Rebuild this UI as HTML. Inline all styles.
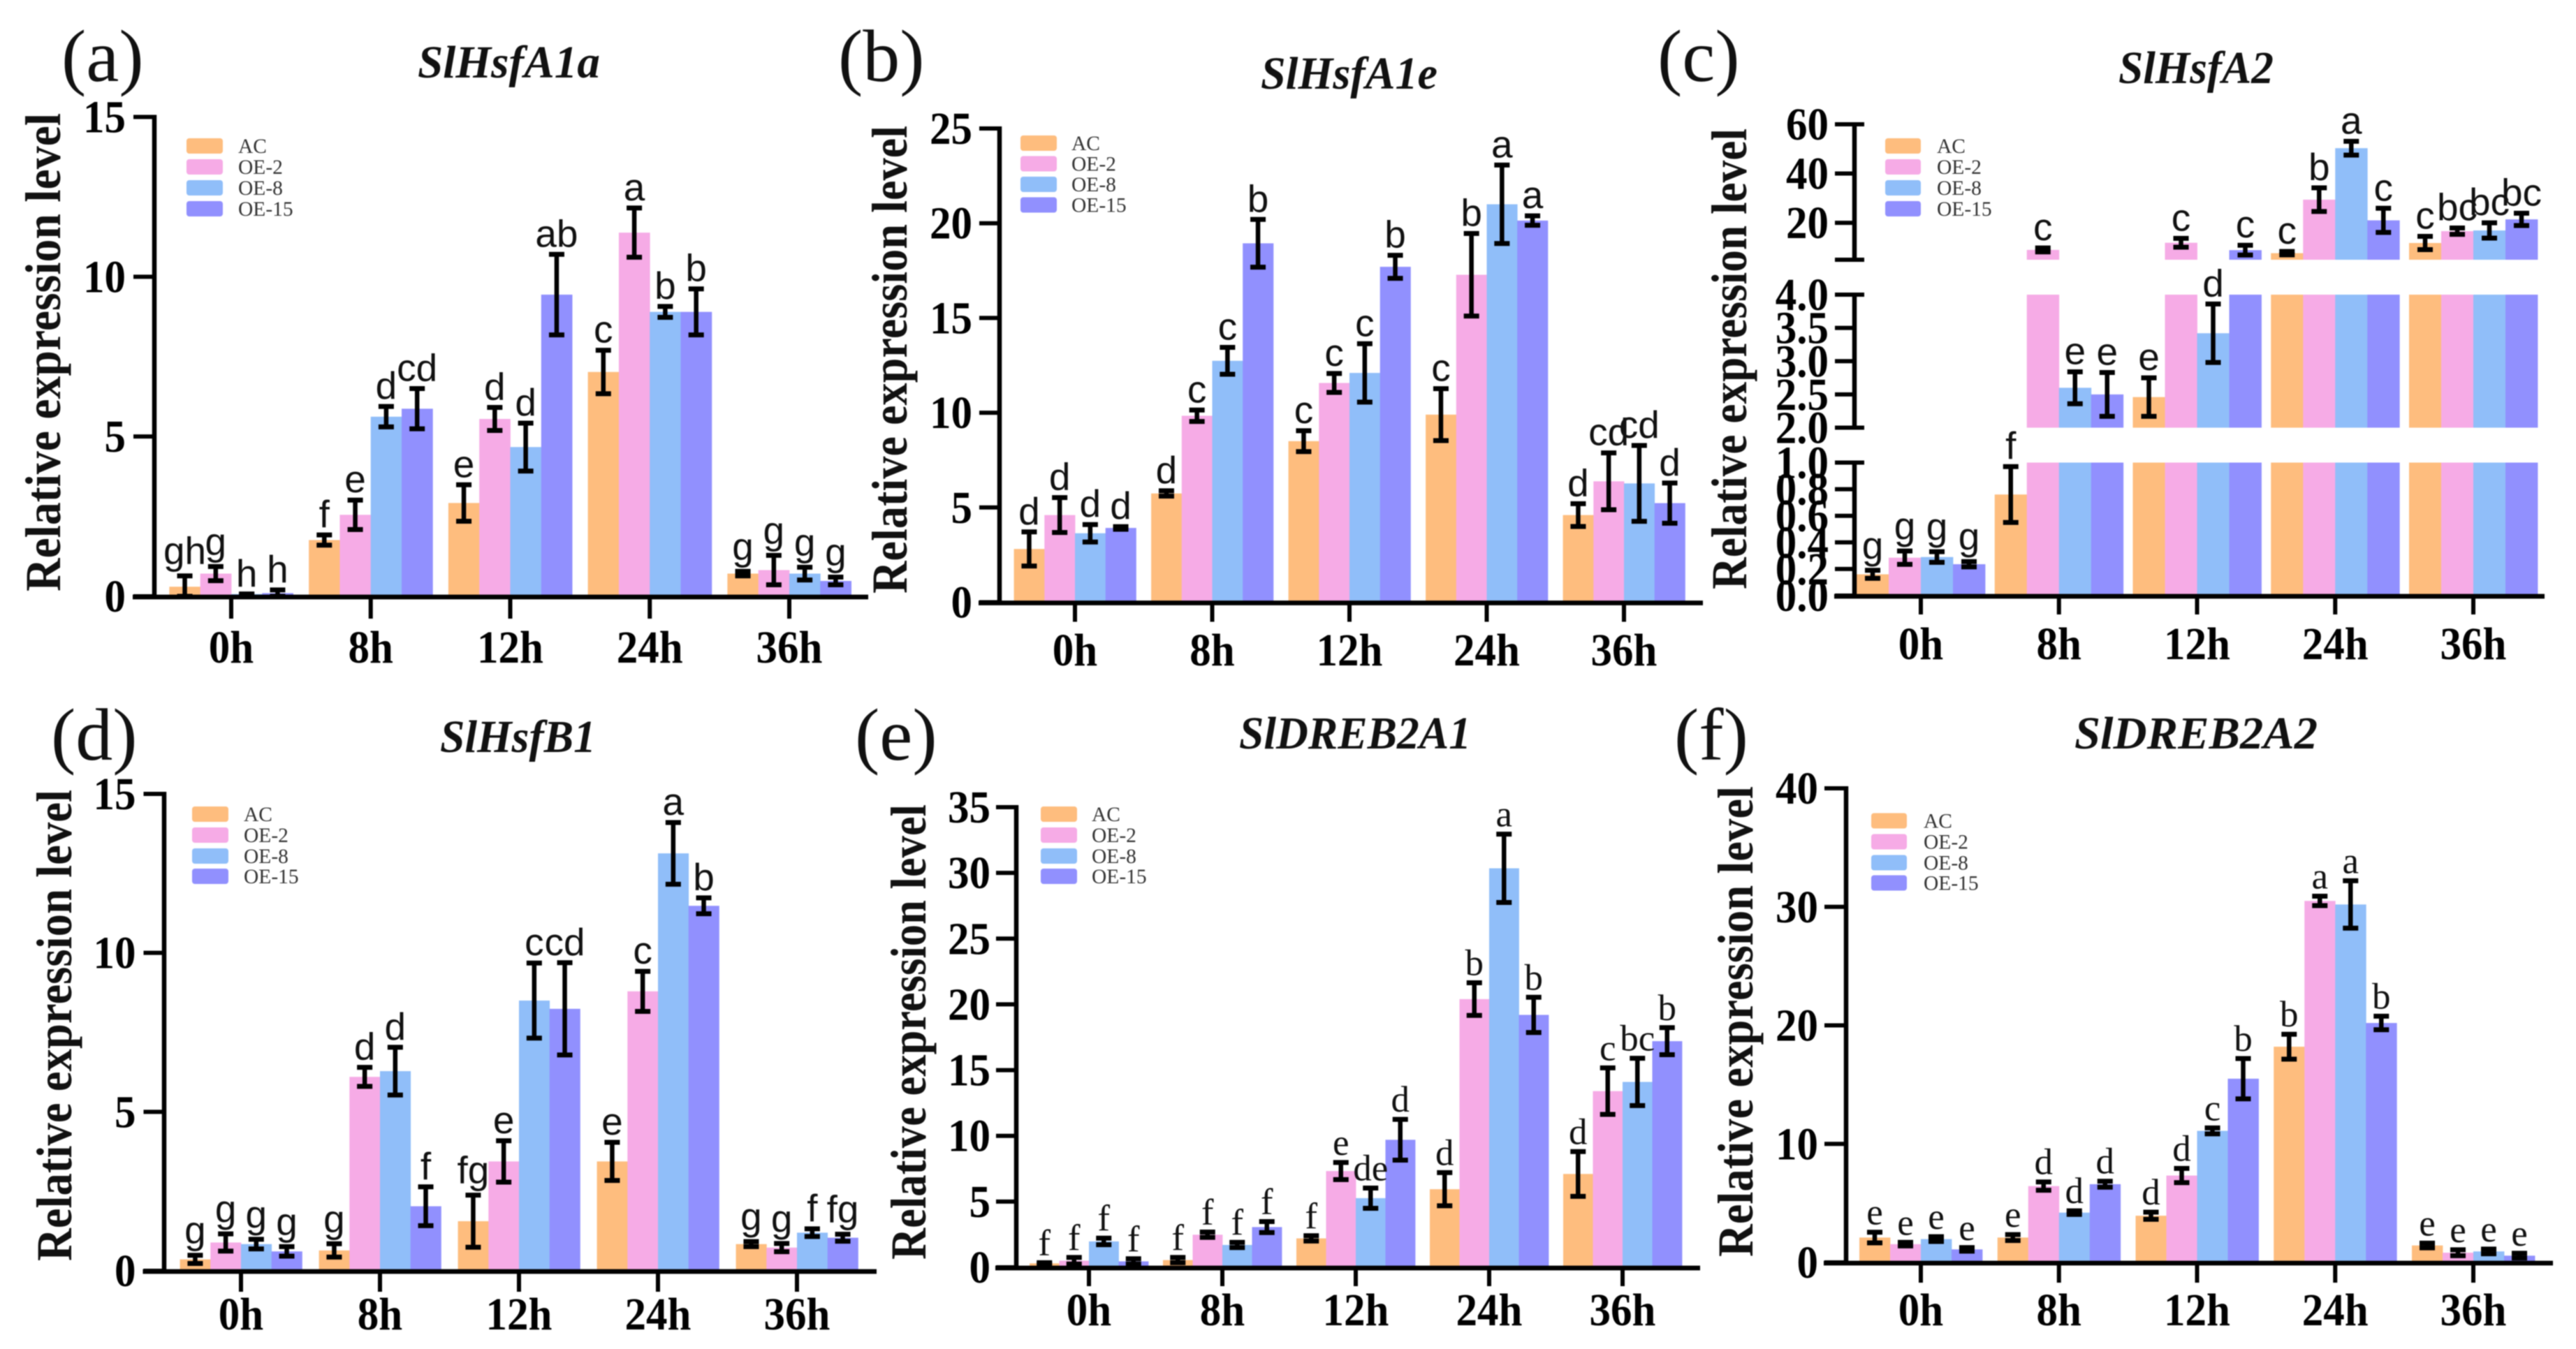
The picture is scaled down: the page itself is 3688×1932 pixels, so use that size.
<!DOCTYPE html>
<html lang="en">
<head>
<meta charset="utf-8">
<title>Relative expression level of heat-stress genes</title>
<style>
html,body{margin:0;padding:0;background:#fff;}
svg{display:block;filter:blur(0.7px);}
text{font-family:"Liberation Serif",serif;fill:#000;}
.panel-label{font-size:106px;font-weight:400;fill:#111;}
.chart-title{font-size:66px;font-weight:700;font-style:italic;fill:#111;}
.y-title{font-size:72px;font-weight:700;fill:#111;}
.tick{font-size:61px;font-weight:700;text-anchor:end;fill:#000;}
.cat{font-size:61px;font-weight:700;text-anchor:middle;fill:#000;}
.legend-text{font-size:29.5px;fill:#333;}
.sig-sans{font-family:"Liberation Sans",sans-serif;font-size:55px;text-anchor:middle;fill:#111;}
.sig-serif{font-family:"Liberation Serif",serif;font-size:53px;text-anchor:middle;fill:#111;}
</style>
</head>
<body>
<svg id="figure" xmlns="http://www.w3.org/2000/svg" width="3688" height="1932" viewBox="0 0 3688 1932">
<rect x="0" y="0" width="3688" height="1932" fill="#fff"/>

<g id="panel-a">
  <text class="panel-label" x="88" y="116">(a)</text>
  <text class="chart-title" x="598" y="111" textLength="261" lengthAdjust="spacingAndGlyphs">SlHsfA1a</text>
  <text class="y-title" transform="translate(86,847) rotate(-90)" textLength="685" lengthAdjust="spacingAndGlyphs">Relative expression level</text>
</g>
<g id="panel-b">
  <text class="panel-label" x="1200" y="116">(b)</text>
  <text class="chart-title" x="1805" y="127" textLength="253" lengthAdjust="spacingAndGlyphs">SlHsfA1e</text>
  <text class="y-title" transform="translate(1298,850) rotate(-90)" textLength="670" lengthAdjust="spacingAndGlyphs">Relative expression level</text>
</g>
<g id="panel-c">
  <text class="panel-label" x="2373" y="116">(c)</text>
  <text class="chart-title" x="3033" y="119" textLength="222" lengthAdjust="spacingAndGlyphs">SlHsfA2</text>
  <text class="y-title" transform="translate(2500,844) rotate(-90)" textLength="660" lengthAdjust="spacingAndGlyphs">Relative expression level</text>
</g>
<g id="panel-d">
  <text class="panel-label" x="73" y="1088">(d)</text>
  <text class="chart-title" x="630" y="1077" textLength="223" lengthAdjust="spacingAndGlyphs">SlHsfB1</text>
  <text class="y-title" transform="translate(102,1806) rotate(-90)" textLength="675" lengthAdjust="spacingAndGlyphs">Relative expression level</text>
</g>
<g id="panel-e">
  <text class="panel-label" x="1224" y="1088">(e)</text>
  <text class="chart-title" x="1774" y="1072" textLength="332" lengthAdjust="spacingAndGlyphs">SlDREB2A1</text>
  <text class="y-title" transform="translate(1325,1804) rotate(-90)" textLength="652" lengthAdjust="spacingAndGlyphs">Relative expression level</text>
</g>
<g id="panel-f">
  <text class="panel-label" x="2397" y="1088">(f)</text>
  <text class="chart-title" x="2970" y="1072" textLength="348" lengthAdjust="spacingAndGlyphs">SlDREB2A2</text>
  <text class="y-title" transform="translate(2509,1800) rotate(-90)" textLength="674" lengthAdjust="spacingAndGlyphs">Relative expression level</text>
</g>

<g transform="translate(267,209)">
  <g><rect x="0" y="-11" width="52" height="22" rx="4" fill="#FEBD7E"/><text class="legend-text" x="74" y="10">AC</text></g>
  <g transform="translate(0,30)"><rect x="0" y="-11" width="52" height="22" rx="4" fill="#F6ABE6"/><text class="legend-text" x="74" y="10">OE-2</text></g>
  <g transform="translate(0,60)"><rect x="0" y="-11" width="52" height="22" rx="4" fill="#90BEF9"/><text class="legend-text" x="74" y="10">OE-8</text></g>
  <g transform="translate(0,90)"><rect x="0" y="-11" width="52" height="22" rx="4" fill="#9190FE"/><text class="legend-text" x="74" y="10">OE-15</text></g>
</g>
<g transform="translate(1461,205)">
  <g><rect x="0" y="-11" width="52" height="22" rx="4" fill="#FEBD7E"/><text class="legend-text" x="73" y="10">AC</text></g>
  <g transform="translate(0,29.5)"><rect x="0" y="-11" width="52" height="22" rx="4" fill="#F6ABE6"/><text class="legend-text" x="73" y="10">OE-2</text></g>
  <g transform="translate(0,59)"><rect x="0" y="-11" width="52" height="22" rx="4" fill="#90BEF9"/><text class="legend-text" x="73" y="10">OE-8</text></g>
  <g transform="translate(0,88.5)"><rect x="0" y="-11" width="52" height="22" rx="4" fill="#9190FE"/><text class="legend-text" x="73" y="10">OE-15</text></g>
</g>
<g transform="translate(2699,209)">
  <g><rect x="0" y="-11" width="51" height="22" rx="4" fill="#FEBD7E"/><text class="legend-text" x="74" y="10">AC</text></g>
  <g transform="translate(0,30)"><rect x="0" y="-11" width="51" height="22" rx="4" fill="#F6ABE6"/><text class="legend-text" x="74" y="10">OE-2</text></g>
  <g transform="translate(0,60)"><rect x="0" y="-11" width="51" height="22" rx="4" fill="#90BEF9"/><text class="legend-text" x="74" y="10">OE-8</text></g>
  <g transform="translate(0,90)"><rect x="0" y="-11" width="51" height="22" rx="4" fill="#9190FE"/><text class="legend-text" x="74" y="10">OE-15</text></g>
</g>
<g transform="translate(275,1166)">
  <g><rect x="0" y="-11" width="52" height="22" rx="4" fill="#FEBD7E"/><text class="legend-text" x="74" y="10">AC</text></g>
  <g transform="translate(0,30)"><rect x="0" y="-11" width="52" height="22" rx="4" fill="#F6ABE6"/><text class="legend-text" x="74" y="10">OE-2</text></g>
  <g transform="translate(0,60)"><rect x="0" y="-11" width="52" height="22" rx="4" fill="#90BEF9"/><text class="legend-text" x="74" y="10">OE-8</text></g>
  <g transform="translate(0,89)"><rect x="0" y="-11" width="52" height="22" rx="4" fill="#9190FE"/><text class="legend-text" x="74" y="10">OE-15</text></g>
</g>
<g transform="translate(1490,1166)">
  <g><rect x="0" y="-11" width="52" height="22" rx="4" fill="#FEBD7E"/><text class="legend-text" x="73" y="10">AC</text></g>
  <g transform="translate(0,30)"><rect x="0" y="-11" width="52" height="22" rx="4" fill="#F6ABE6"/><text class="legend-text" x="73" y="10">OE-2</text></g>
  <g transform="translate(0,60)"><rect x="0" y="-11" width="52" height="22" rx="4" fill="#90BEF9"/><text class="legend-text" x="73" y="10">OE-8</text></g>
  <g transform="translate(0,89)"><rect x="0" y="-11" width="52" height="22" rx="4" fill="#9190FE"/><text class="legend-text" x="73" y="10">OE-15</text></g>
</g>
<g transform="translate(2679,1175.5)">
  <g><rect x="0" y="-11" width="51" height="22" rx="4" fill="#FEBD7E"/><text class="legend-text" x="75" y="10">AC</text></g>
  <g transform="translate(0,30)"><rect x="0" y="-11" width="51" height="22" rx="4" fill="#F6ABE6"/><text class="legend-text" x="75" y="10">OE-2</text></g>
  <g transform="translate(0,60)"><rect x="0" y="-11" width="51" height="22" rx="4" fill="#90BEF9"/><text class="legend-text" x="75" y="10">OE-8</text></g>
  <g transform="translate(0,89)"><rect x="0" y="-11" width="51" height="22" rx="4" fill="#9190FE"/><text class="legend-text" x="75" y="10">OE-15</text></g>
</g>
</svg>

<script>
const categories = ['0h','8h','12h','24h','36h'];
const seriesNames = ['AC','OE-2','OE-8','OE-15'];

// Panel (a) SlHsfA1a
const aTicks = [0,5,10,15];
const aAC = [0.3,1.76,2.92,7.02,0.71];
const aOE2 = [0.71,2.55,5.55,11.38,0.82];
const aOE8 = [0.07,5.62,4.67,8.9,0.71];
const aOE15 = [0.1,5.87,9.44,8.9,0.48];
const aACErr = [0.34,0.16,0.57,0.68,0.07];
const aOE2Err = [0.22,0.46,0.36,0.77,0.46];
const aOE8Err = [0,0.32,0.75,0.17,0.2];
const aOE15Err = [0.1,0.63,1.26,0.72,0.12];
const aACSig = ['gh','f','e','c','g'];
const aOE2Sig = ['g','e','d','a','g'];
const aOE8Sig = ['h','d','d','b','g'];
const aOE15Sig = ['h','cd','ab','b','g'];

// Panel (b) SlHsfA1e
const bTicks = [0,5,10,15,20,25];
const bAC = [2.81,5.74,8.5,9.9,4.6];
const bOE2 = [4.6,9.84,11.57,17.28,6.38];
const bOE8 = [3.64,12.74,12.1,21.0,6.27];
const bOE15 = [3.92,18.94,17.7,20.14,5.23];
const bACErr = [0.9,0.14,0.55,1.37,0.6];
const bOE2Err = [0.92,0.3,0.5,2.18,1.5];
const bOE8Err = [0.46,0.71,1.54,2.07,2.0];
const bOE15Err = [0.07,1.26,0.61,0.25,1.06];
const bACSig = ['d','d','c','c','d'];
const bOE2Sig = ['d','c','c','b','cd'];
const bOE8Sig = ['d','c','c','a','cd'];
const bOE15Sig = ['d','b','b','a','d'];

// Panel (c) SlHsfA2 (broken axis)
const cTicksLow = [0,0.2,0.4,0.6,0.8,1];
const cTickLabelsLow = ['0.0','0.2','0.4','0.6','0.8','1.0'];
const cTicksMid = [2,2.5,3,3.5,4];
const cTickLabelsMid = ['2.0','2.5','3.0','3.5','4.0'];
const cTicksTop = [5,20,40,60];
const cTickLabelsTop = ['','20','40','60'];
const cAC = [0.16,0.76,2.46,7.67,11.8];
const cOE2 = [0.285,9,11.9,29.4,16.6];
const cOE8 = [0.29,2.6,3.42,50.3,16.9];
const cOE15 = [0.236,2.5,8.9,21,21.4];
const cACErr = [0.03,0.21,0.29,0.7,2.7];
const cOE2Err = [0.05,0.8,1.8,4.8,1.3];
const cOE8Err = [0.04,0.24,0.44,2.8,3.1];
const cOE15Err = [0.02,0.33,2,4.9,2.5];
const cACSig = ['g','f','e','c','c'];
const cOE2Sig = ['g','c','c','b','bc'];
const cOE8Sig = ['g','e','d','a','bc'];
const cOE15Sig = ['g','e','c','c','bc'];

// Panel (d) SlHsfB1
const dTicks = [0,5,10,15];
const dAC = [0.36,0.64,1.56,3.44,0.84];
const dOE2 = [0.89,6.1,3.44,8.79,0.73];
const dOE8 = [0.84,6.28,8.5,13.13,1.2];
const dOE15 = [0.61,2.03,8.24,11.48,1.04];
const dACErr = [0.13,0.21,0.82,0.6,0.08];
const dOE2Err = [0.27,0.3,0.65,0.63,0.13];
const dOE8Err = [0.15,0.75,1.18,0.97,0.12];
const dOE15Err = [0.15,0.61,1.45,0.25,0.11];
const dACSig = ['g','g','fg','e','g'];
const dOE2Sig = ['g','d','e','c','g'];
const dOE8Sig = ['g','d','c','a','f'];
const dOE15Sig = ['g','f','cd','b','fg'];

// Panel (e) SlDREB2A1
const eTicks = [0,5,10,15,20,25,30,35];
const eAC = [0.3,0.55,2.2,5.94,7.1];
const eOE2 = [0.5,2.48,7.32,20.4,13.4];
const eOE8 = [1.97,1.7,5.26,30.35,14.1];
const eOE15 = [0.45,3.06,9.7,19.2,17.2];
const eACErr = [0.05,0.2,0.2,1.26,1.7];
const eOE2Err = [0.25,0.2,0.65,1.24,1.77];
const eOE8Err = [0.25,0.2,0.77,2.6,1.8];
const eOE15Err = [0.2,0.42,1.55,1.34,1.03];
const eACSig = ['f','f','f','d','d'];
const eOE2Sig = ['f','f','e','b','c'];
const eOE8Sig = ['f','f','de','a','bc'];
const eOE15Sig = ['f','f','d','b','b'];

// Panel (f) SlDREB2A2
const fTicks = [0,10,20,30,40];
const fAC = [2.1,2.1,3.94,18.2,1.43];
const fOE2 = [1.54,6.44,7.33,30.5,0.82];
const fOE8 = [1.97,4.2,11.1,30.2,0.93];
const fOE15 = [1.1,6.6,15.5,20.2,0.57];
const fACErr = [0.45,0.25,0.3,1.05,0.2];
const fOE2Err = [0.15,0.35,0.6,0.4,0.25];
const fOE8Err = [0.2,0.15,0.25,2,0.2];
const fOE15Err = [0.15,0.25,1.7,0.57,0.2];
const fACSig = ['e','e','d','b','e'];
const fOE2Sig = ['e','d','d','a','e'];
const fOE8Sig = ['e','d','c','a','e'];
const fOE15Sig = ['e','d','b','b','e'];

const seriesColors = ['#FEBD7E','#F6ABE6','#90BEF9','#9190FE'];
const NS = 'http://www.w3.org/2000/svg';

function shape(parent, tag, props) {
  const el = document.createElementNS(NS, tag);
  for (const k in props) el.setAttribute(k, props[k]);
  parent.appendChild(el);
  return el;
}

// Piecewise-linear value axis: each segment maps [lo,hi] to pixel range [yLo,yHi]
function makeYScale(segments) {
  return function (v) {
    for (const s of segments) {
      if (v <= s.hi) {
        const t = Math.max(0, (v - s.lo)) / (s.hi - s.lo);
        return s.yLo + t * (s.yHi - s.yLo);
      }
    }
    const last = segments[segments.length - 1];
    return last.yLo + (v - last.lo) / (last.hi - last.lo) * (last.yHi - last.yLo);
  };
}

function drawPanel(cfg) {
  const root = document.getElementById(cfg.id);
  const y = makeYScale(cfg.segments);
  const xCat = i => cfg.firstCat + cfg.catStep * i;
  const xBar = (i, s) => xCat(i) + (s - 2) * cfg.barW;

  // bars
  cfg.values.forEach((series, s) => {
    series.forEach((v, i) => {
      cfg.segments.forEach(seg => {
        if (v <= seg.lo) return;
        const top = y(Math.min(v, seg.hi));
        const bar = shape(root, 'rect', {x: xBar(i, s), y: top, width: cfg.barW + 0.4, height: seg.yLo - top, fill: seriesColors[s]});
        
        
      });
    });
  });

  // error bars and significance letters
  cfg.values.forEach((series, s) => {
    series.forEach((v, i) => {
      const e = cfg.errors[s][i];
      const cx = xBar(i, s) + cfg.barW / 2;
      const yTop = y(v + e);
      const yBot = y(Math.max(v - e, 0));
      const g = shape(root, 'g', {stroke: '#000', fill: 'none'});
      
      
      shape(g, 'line', {x1: cx, x2: cx, y1: yTop, y2: yBot, 'stroke-width': 6.5});
      shape(g, 'line', {x1: cx - 11, x2: cx + 11, y1: yTop, y2: yTop, 'stroke-width': 7});
      shape(g, 'line', {x1: cx - 11, x2: cx + 11, y1: yBot, y2: yBot, 'stroke-width': 7});

      const letter = cfg.letters[s][i];
      const hasDescender = letter.indexOf('g') >= 0;
      const sig = shape(root, 'text', {class: cfg.sigClass, x: cx, y: yTop - 11 - (hasDescender ? 6 : 0)});
      
      
      sig.textContent = letter;
    });
  });

  // y axis segments and ticks
  cfg.segments.forEach((seg, n) => {
    const axis = shape(root, 'line', {x1: cfg.axisX, x2: cfg.axisX, y1: seg.yLo + 2, y2: seg.yHi - 3, stroke: '#000', 'stroke-width': 6.5});
    
    
    seg.ticks.forEach((t, k) => {
      const yy = y(t);
      const isEnd = cfg.segments.length > 1 && (k === 0 || k === seg.ticks.length - 1) && !(n === 0 && k === 0);
      const tick = shape(root, 'line', {x1: cfg.axisLeft, x2: isEnd ? cfg.axisX + 14 : cfg.axisX, y1: yy, y2: yy, stroke: '#000', 'stroke-width': 6});
      
      
      const txt = shape(root, 'text', {class: 'tick', transform: 'translate(' + cfg.tickRight + ',' + (yy + 22) + ') scale(1,1.08)'});
      
      
      txt.textContent = seg.labels ? seg.labels[k] : String(t);
    });
  });

  // x axis
  const y0 = cfg.segments[0].yLo;
  const xAxis = shape(root, 'line', {x1: cfg.axisLeft - 1, x2: cfg.axisRight, y1: y0 + 1, y2: y0 + 1, stroke: '#000', 'stroke-width': 6.7});
  
  
  categories.forEach((c, i) => {
    const tick = shape(root, 'line', {x1: xCat(i), x2: xCat(i), y1: y0, y2: y0 + cfg.tickLen, stroke: '#000', 'stroke-width': 6});
    
    
    const lab = shape(root, 'text', {class: 'cat', transform: 'translate(' + xCat(i) + ',' + cfg.catBase + ') scale(1,1.08)'});
    
    
    lab.textContent = c;
  });
}

drawPanel({
  id: 'panel-a', sigClass: 'sig-sans',
  values: [aAC, aOE2, aOE8, aOE15], errors: [aACErr, aOE2Err, aOE8Err, aOE15Err], letters: [aACSig, aOE2Sig, aOE8Sig, aOE15Sig],
  segments: [{lo: 0, hi: 15, yLo: 854, yHi: 167.5, ticks: aTicks}],
  firstCat: 331, catStep: 199.75, barW: 44.3,
  axisX: 221, axisLeft: 191, axisRight: 1243, tickRight: 180, tickLen: 32, catBase: 949
});
drawPanel({
  id: 'panel-b', sigClass: 'sig-sans',
  values: [bAC, bOE2, bOE8, bOE15], errors: [bACErr, bOE2Err, bOE8Err, bOE15Err], letters: [bACSig, bOE2Sig, bOE8Sig, bOE15Sig],
  segments: [{lo: 0, hi: 25, yLo: 862.5, yHi: 184, ticks: bTicks}],
  firstCat: 1539, catStep: 196.5, barW: 43.7,
  axisX: 1431, axisLeft: 1402, axisRight: 2438, tickRight: 1392, tickLen: 28, catBase: 953
});
drawPanel({
  id: 'panel-c', sigClass: 'sig-sans',
  values: [cAC, cOE2, cOE8, cOE15], errors: [cACErr, cOE2Err, cOE8Err, cOE15Err], letters: [cACSig, cOE2Sig, cOE8Sig, cOE15Sig],
  segments: [
    {lo: 0, hi: 1, yLo: 853, yHi: 662.5, ticks: cTicksLow, labels: cTickLabelsLow},
    {lo: 2, hi: 4, yLo: 612.5, yHi: 422, ticks: cTicksMid, labels: cTickLabelsMid},
    {lo: 5, hi: 60, yLo: 372, yHi: 178, ticks: cTicksTop, labels: cTickLabelsTop}
  ],
  firstCat: 2750, catStep: 197.75, barW: 46,
  axisX: 2655, axisLeft: 2627, axisRight: 3643, tickRight: 2618, tickLen: 27, catBase: 944
});
drawPanel({
  id: 'panel-d', sigClass: 'sig-sans',
  values: [dAC, dOE2, dOE8, dOE15], errors: [dACErr, dOE2Err, dOE8Err, dOE15Err], letters: [dACSig, dOE2Sig, dOE8Sig, dOE15Sig],
  segments: [{lo: 0, hi: 15, yLo: 1820, yHi: 1137, ticks: dTicks}],
  firstCat: 345, catStep: 199, barW: 43.7,
  axisX: 235, axisLeft: 205.5, axisRight: 1255, tickRight: 194.5, tickLen: 30, catBase: 1904
});
drawPanel({
  id: 'panel-e', sigClass: 'sig-serif',
  values: [eAC, eOE2, eOE8, eOE15], errors: [eACErr, eOE2Err, eOE8Err, eOE15Err], letters: [eACSig, eOE2Sig, eOE8Sig, eOE15Sig],
  segments: [{lo: 0, hi: 35, yLo: 1815, yHi: 1156, ticks: eTicks}],
  firstCat: 1559, catStep: 191, barW: 42.5,
  axisX: 1455, axisLeft: 1426, axisRight: 2434, tickRight: 1418, tickLen: 27, catBase: 1898
});
drawPanel({
  id: 'panel-f', sigClass: 'sig-serif',
  values: [fAC, fOE2, fOE8, fOE15], errors: [fACErr, fOE2Err, fOE8Err, fOE15Err], letters: [fACSig, fOE2Sig, fOE8Sig, fOE15Sig],
  segments: [{lo: 0, hi: 40, yLo: 1808, yHi: 1129, ticks: fTicks}],
  firstCat: 2750, catStep: 197.75, barW: 44,
  axisX: 2643, axisLeft: 2612, axisRight: 3655, tickRight: 2603, tickLen: 29, catBase: 1898
});
</script>
</body>
</html>
